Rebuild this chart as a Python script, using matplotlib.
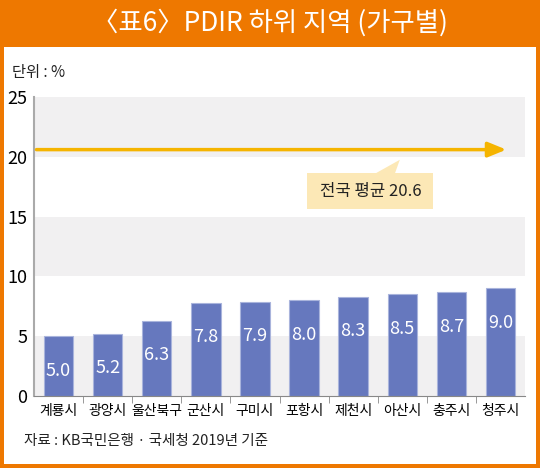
import matplotlib
matplotlib.use("Agg")
import matplotlib.pyplot as plt
from matplotlib.patches import Rectangle, Polygon

plt.rcParams["font.family"] = ["Noto Sans CJK KR", "DejaVu Sans"]
plt.rcParams["axes.unicode_minus"] = False

# ── 데이터 ──────────────────────────────────────
regions = ["계룡시", "광양시", "울산북구", "군산시", "구미시",
           "포항시", "제천시", "아산시", "충주시", "청주시"]
pdir = [5.0, 5.2, 6.3, 7.8, 7.9, 8.0, 8.3, 8.5, 8.7, 9.0]
national_avg = 20.6
y_ticks = [0, 5, 10, 15, 20, 25]

ORANGE = "#EE7800"
BAR = "#6678BE"
ARROW = "#F5B400"
BAND = "#F1F0F1"

fig = plt.figure(figsize=(5.4, 4.68), dpi=100)
fig.patch.set_facecolor(ORANGE)

# 흰색 패널 (축보다 뒤에)
fig.patches.append(Rectangle((4 / 540, 4 / 468), 532 / 540, 417 / 468,
                             transform=fig.transFigure, facecolor="white",
                             edgecolor="none", zorder=-5))

fig.text(0.5, 1 - 23 / 468, "〈표6〉PDIR 하위 지역 (가구별)",
         color="white", fontsize=19, ha="center", va="center",
         fontweight="medium")
fig.text(12 / 540, 1 - 72 / 468, "단위 : %", fontsize=11,
         ha="left", va="center", color="#222222", fontweight="medium")
fig.text(24 / 540, 1 - 441 / 468, "자료 : KB국민은행 · 국세청 2019년 기준",
         fontsize=10.5, ha="left", va="center", color="#222222")

ax = fig.add_axes([34 / 540, 1 - 396 / 468, 491 / 540, 299 / 468])
ax.set_facecolor("white")
ax.set_xlim(-0.5, len(regions) - 0.5)
ax.set_ylim(0, 25)

# 회색 배경 띠
for lo in (0, 10, 20):
    ax.axhspan(lo, lo + 5, color=BAND, zorder=0, lw=0)

x = range(len(regions))
ax.bar(x, pdir, width=0.6, color=BAR, edgecolor="#A9B4DC",
       linewidth=0.8, zorder=2)
for i, v in enumerate(pdir):
    ax.text(i, v - 2.9, f"{v:.1f}", color="white", fontsize=13,
            ha="center", va="center", zorder=3)

# 전국 평균 화살표
ax.annotate("", xy=(9.12, national_avg), xytext=(-0.45, national_avg),
            arrowprops=dict(arrowstyle="-|>,head_length=1.1,head_width=0.45",
                            color=ARROW, lw=2.5, shrinkA=0, shrinkB=0),
            zorder=4)

# 말풍선
ax.add_patch(Rectangle((5.06, 15.6), 2.57, 3.05, facecolor="#FCE8B6",
                       edgecolor="none", zorder=3))
ax.add_patch(Polygon([(6.45, 18.6), (6.85, 18.6), (6.95, 19.75)],
                     closed=True, facecolor="#FCE8B6", edgecolor="none",
                     zorder=3))
ax.text(6.35, 17.1, "전국 평균 20.6", fontsize=12, ha="center",
        va="center", color="#222222", zorder=4)

ax.set_yticks(y_ticks)
ax.set_yticklabels([str(t) for t in y_ticks], fontsize=13)
ax.set_xticks(list(x))
ax.set_xticklabels(regions, fontsize=10)
ax.set_xticks([i + 0.5 for i in range(len(regions) - 1)], minor=True)
ax.tick_params(axis="x", which="major", length=0, pad=6)
ax.tick_params(axis="x", which="minor", length=5, color="#888888")
ax.tick_params(axis="y", length=0, pad=5)

for side in ("top", "right"):
    ax.spines[side].set_visible(False)
ax.spines["left"].set_color("#AAAAAA")
ax.spines["bottom"].set_color("#888888")
ax.spines["left"].set_linewidth(1.5)

fig.savefig("out.png", dpi=100, facecolor=fig.get_facecolor())
